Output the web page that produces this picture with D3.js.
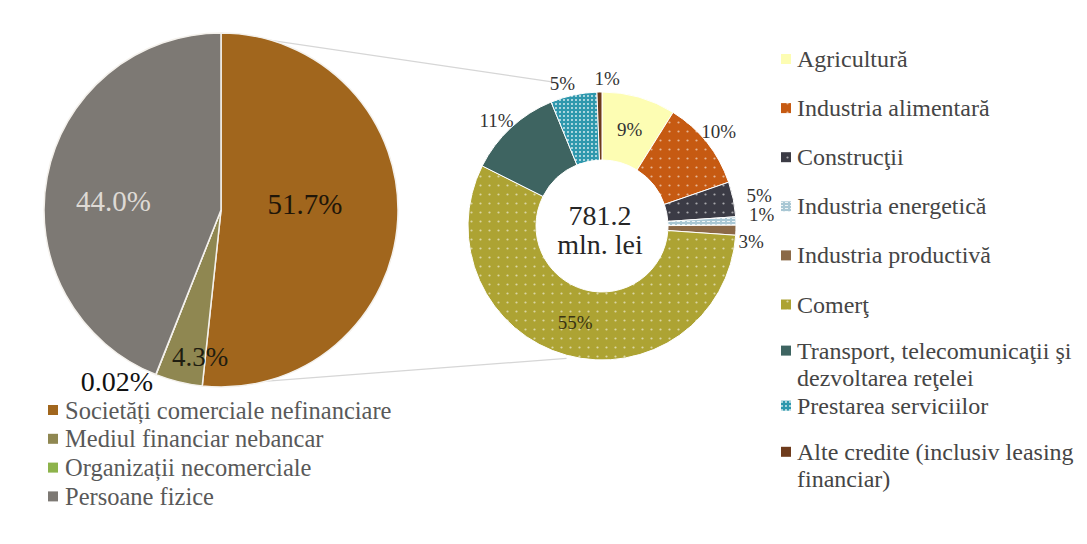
<!DOCTYPE html>
<html><head><meta charset="utf-8">
<script src="https://cdn.jsdelivr.net/npm/d3@7"></script>
<style>body{margin:0;background:#fff}svg{display:block}
svg text{font-family:"Liberation Serif","Times New Roman","DejaVu Serif",serif}</style>
</head><body>
<svg id="c" width="1087" height="544"></svg>
<script>
// ---- data ----
const sectors = ["Societăți comerciale nefinanciare", "Mediul financiar nebancar", "Organizații necomerciale", "Persoane fizice"];
const sectorShares = [51.7, 4.3, 0.02, 44.0];
const sectorLabels = ["51.7%", "4.3%", "0.02%", "44.0%"];
const sectorColors = ["#a1661d", "#8f8751", "#8db34b", "#7d7974"];

const branches = ["Agricultură", "Industria alimentară", "Construcţii", "Industria energetică", "Industria productivă", "Comerţ", "Transport, telecomunicaţii şi|dezvoltarea reţelei", "Prestarea serviciilor", "Alte credite (inclusiv leasing|financiar)"];
const branchShares = [8.9, 10.8, 4.2, 1.0, 1.2, 56.3, 11.4, 5.6, 0.6];
const branchLabels = ["9%", "10%", "5%", "1%", "3%", "55%", "11%", "5%", "1%"];
const branchColors = ["#fdfdb3", "#c65a12", "#3b3b45", "#a9c7d4", "#8b6947", "#ada333", "#3e6461", "#2f98ad", "#6e3b1c"];
const branchPattern = ["none", "dots", "dots", "dash", "none", "dots", "none", "fine", "none"];
const centerText = ["781.2", "mln. lei"];

// ---- layout ----
const svg = d3.select("#c");
const P = {cx: 221, cy: 210, r: 177};
const D = {cx: 602, cy: 226, r0: 66, r1: 134};
const rad = d => d * Math.PI / 180;
const polar = (c, angDeg, r) => [c.cx + r * Math.sin(rad(angDeg)), c.cy - r * Math.cos(rad(angDeg))];

// patterns
const defs = svg.append("defs");
branchColors.forEach((col, i) => {
  const t = branchPattern[i];
  if (t === "none") return;
  const s = t === "fine" ? 4 : (t === "dash" ? 5 : 9);
  const p = defs.append("pattern").attr("id", "pat" + i).attr("patternUnits", "userSpaceOnUse")
    .attr("width", s).attr("height", t === "dash" ? 3 : s);
  p.append("rect").attr("width", s).attr("height", s).attr("fill", col);
  if (t === "dots") p.append("circle").attr("cx", s / 2).attr("cy", s / 2).attr("r", 1.1).attr("fill", "rgba(255,255,255,0.55)");
  if (t === "fine") p.append("circle").attr("cx", 2).attr("cy", 2).attr("r", 1.05).attr("fill", "rgba(255,255,255,0.75)");
  if (t === "dash") p.append("rect").attr("x", 0).attr("y", 1).attr("width", 3).attr("height", 1).attr("fill", "rgba(255,255,255,0.8)");
});
const fillOf = i => branchPattern[i] === "none" ? branchColors[i] : `url(#pat${i})`;

// connector lines
const pieGen = d3.pie().sort(null).value(d => d);
const pArcs = pieGen(sectorShares);
const dArcs = pieGen(branchShares);
const deg = a => a * 180 / Math.PI;
const top1 = polar(P, deg(pArcs[0].startAngle), P.r);
const bot1 = polar(P, deg(pArcs[0].endAngle), P.r);
const top2 = polar(D, 342, 151);
const bot2 = polar(D, 195, 137);
svg.append("line").attr("x1", top1[0]).attr("y1", top1[1]).attr("x2", top2[0]).attr("y2", top2[1]).attr("stroke", "#d6d6d6").attr("stroke-width", 1.2);
svg.append("line").attr("x1", bot1[0]).attr("y1", bot1[1]).attr("x2", bot2[0]).attr("y2", bot2[1]).attr("stroke", "#d6d6d6").attr("stroke-width", 1.2);

// left pie
const pArc = d3.arc().innerRadius(0).outerRadius(P.r);
const gP = svg.append("g").attr("transform", `translate(${P.cx},${P.cy})`);
gP.selectAll("path").data(pArcs).join("path").attr("d", pArc)
  .attr("fill", (d, i) => sectorColors[i]).attr("stroke", "#f4f1ec").attr("stroke-width", 1.5);

const pLabelPlace = [{a: 85.9, r: 84.2, s: 29}, {a: 188.1, r: 148.5, s: 27}, {a: 211.2, r: 201, s: 28}, {a: 274.8, r: 108, s: 29}];
const pLabelColor = ["#1f1609", "#1f1d10", "#111", "#dedad5"];
pLabelPlace.forEach((pl, i) => {
  const [x, y] = polar(P, pl.a, pl.r);
  svg.append("text").attr("x", x).attr("y", y).attr("text-anchor", "middle").attr("dominant-baseline", "central")
    .attr("font-size", pl.s).attr("fill", pLabelColor[i]).text(sectorLabels[i]);
});

// donut
const dArc = d3.arc().innerRadius(D.r0).outerRadius(D.r1);
const gD = svg.append("g").attr("transform", `translate(${D.cx},${D.cy})`);
gD.selectAll("path").data(dArcs).join("path").attr("d", dArc)
  .attr("fill", (d, i) => fillOf(i)).attr("stroke", "#ffffff").attr("stroke-width", 1);

const dLabelPlace = [{a: 16, r: 100}, {a: 51, r: 150}, {a: 79, r: 160}, {a: 86, r: 160}, {a: 96, r: 150}, {a: 195.5, r: 100}, {a: 315, r: 149}, {a: 344.5, r: 148}, {a: 2, r: 148}];
dLabelPlace.forEach((pl, i) => {
  const [x, y] = polar(D, pl.a, pl.r);
  svg.append("text").attr("x", x).attr("y", y).attr("text-anchor", "middle").attr("dominant-baseline", "central")
    .attr("font-size", 19).attr("fill", i === 5 ? "#3a3514" : "#333").text(branchLabels[i]);
});
svg.append("text").attr("x", D.cx - 2).attr("y", D.cy - 11).attr("text-anchor", "middle").attr("dominant-baseline", "central")
  .attr("font-size", 28).attr("fill", "#262626").text(centerText[0]);
svg.append("text").attr("x", D.cx - 2).attr("y", D.cy + 18).attr("text-anchor", "middle").attr("dominant-baseline", "central")
  .attr("font-size", 28).attr("fill", "#262626").text(centerText[1]);

// left legend
const gL = svg.append("g");
sectors.forEach((s, i) => {
  const y = 410 + i * 28.8;
  gL.append("rect").attr("x", 48).attr("y", y - 5).attr("width", 10).attr("height", 10).attr("fill", sectorColors[i]);
  gL.append("text").attr("x", 65).attr("y", y).attr("dominant-baseline", "central")
    .attr("font-size", 24.5).attr("fill", "#595959").text(s);
});

// right legend
const gR = svg.append("g");
const rowNudge = [0, 0, 0, 0, 0, 0, -3, 3, 0];
branches.forEach((s, i) => {
  const y = 59 + i * 49.1 + rowNudge[i];
  gR.append("rect").attr("x", 781).attr("y", y - 5).attr("width", 10).attr("height", 10).attr("fill", fillOf(i));
  s.split("|").forEach((line, j) => {
    gR.append("text").attr("x", 797).attr("y", y + j * 27.5).attr("dominant-baseline", "central")
      .attr("font-size", 24).attr("fill", "#454545").text(line);
  });
});
</script>
</body></html>
